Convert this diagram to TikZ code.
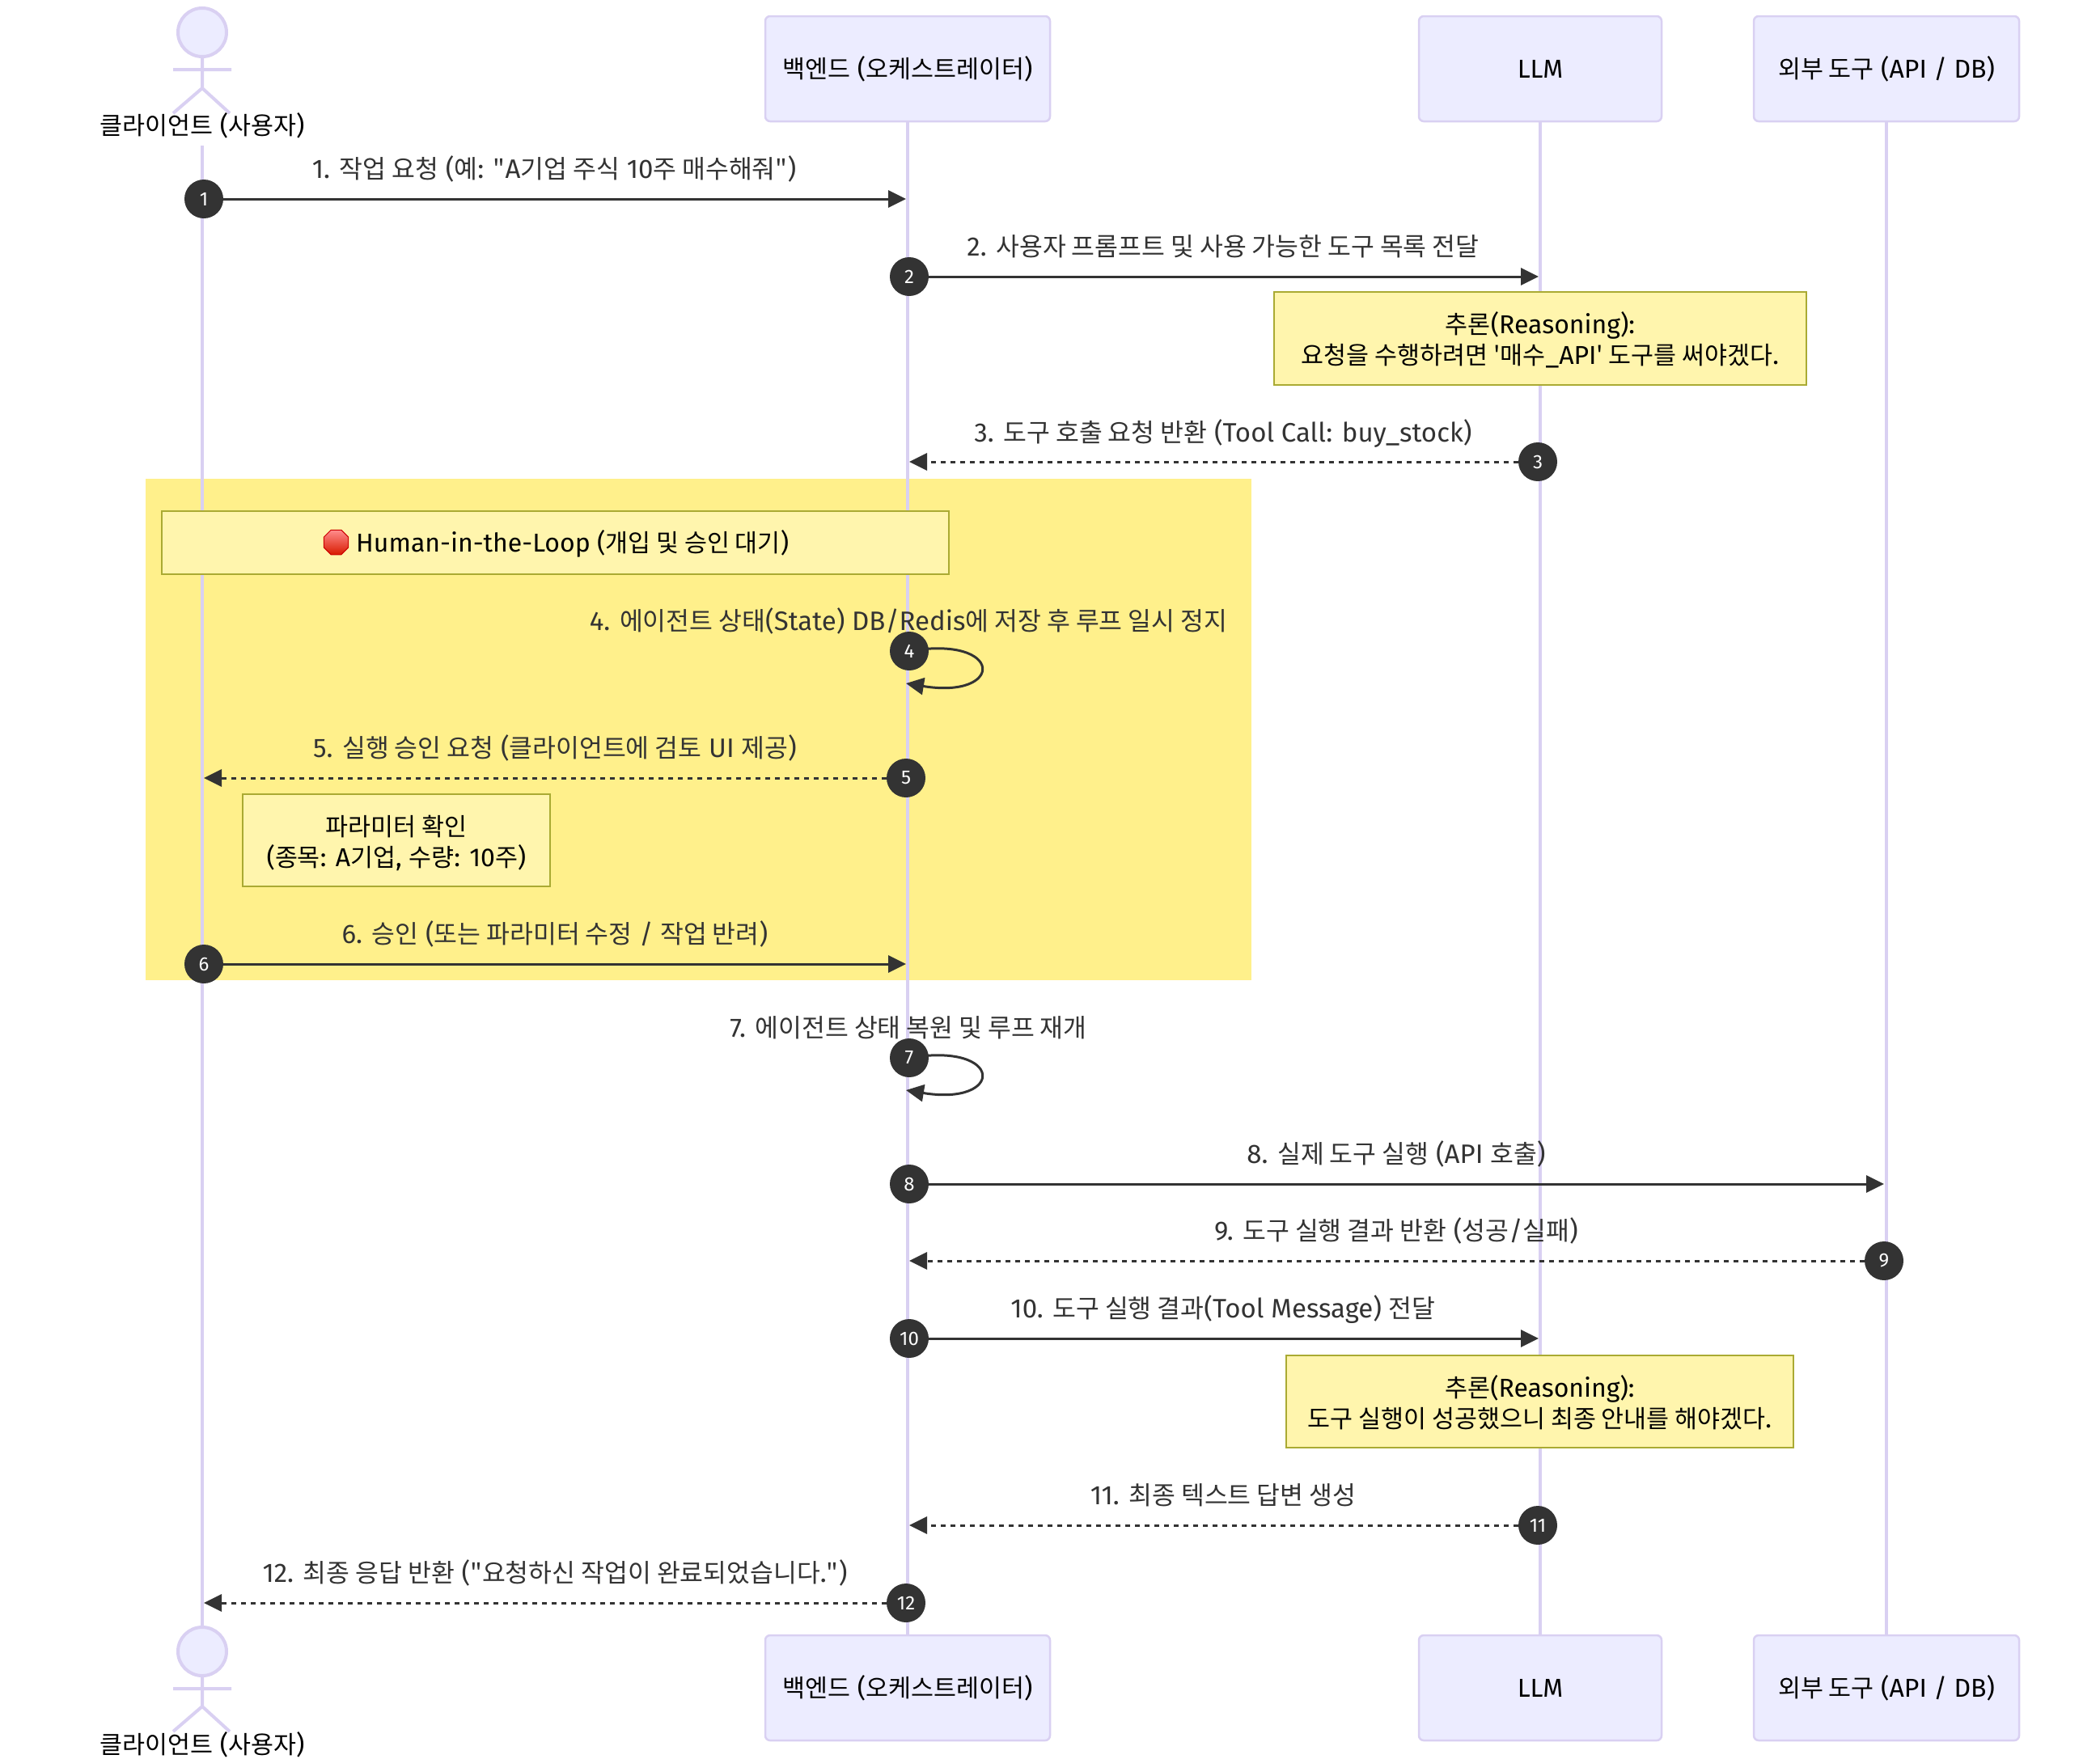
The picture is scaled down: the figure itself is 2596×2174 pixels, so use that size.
\documentclass[tikz,border=0pt]{standalone}
\usepackage{fontspec}
\setmainfont{Fira Sans}
\newfontfamily\krf[Scale=0.95]{Noto Sans CJK KR}
\newcommand\K[1]{{\krf #1}}
\newcommand\nlstrut{\rule[-10pt]{0pt}{46pt}}
\usetikzlibrary{arrows.meta,shapes.geometric}
\pgfdeclarelayer{bgl}\pgfdeclarelayer{conn}
\pgfsetlayers{bgl,conn,main}
\definecolor{actline}{HTML}{D9D0F2}
\definecolor{actfill}{HTML}{ECECFF}
\definecolor{darkc}{HTML}{333333}
\definecolor{notefill}{HTML}{FFF5AD}
\definecolor{notedraw}{HTML}{AAAA33}
\definecolor{loopbg}{HTML}{FFF08B}
\tikzset{
 x=1pt,y=-1pt,
 basefont/.style={font=\fontsize{32}{38}\selectfont},
 actorbox/.style={draw=actline,fill=actfill,line width=2.5pt,rounded corners=6pt,inner sep=0pt,basefont,text=black,minimum height=130pt},
 actorlabel/.style={inner sep=0pt,anchor=base,basefont,text=black},
 lifeline/.style={draw=actline,line width=4pt},
 actorline/.style={draw=actline,line width=4pt},
 msglabel/.style={inner sep=0pt,anchor=base,font=\fontsize{33}{38}\selectfont,text=darkc},
 num/.style={circle,fill=darkc,text=white,inner sep=0pt,minimum size=48pt,font=\fontsize{24}{24}\selectfont},
 msg/.style={draw=darkc,line width=3pt,-{Triangle[length=22pt,width=21pt]}},
 msgd/.style={msg,dash pattern=on 6pt off 6pt},
 notebox/.style={draw=notedraw,fill=notefill,line width=2.5pt,inner sep=0pt,basefont,text=black,align=center},
}
\begin{document}
\lineskiplimit=-1000pt
\begin{tikzpicture}
\useasboundingbox (0,0) rectangle (2596,2174);
\begin{pgfonlayer}{bgl}
\fill[white] (0,0) rectangle (2596,2174);
\fill[loopbg] (180,592) rectangle (1547,1212);
\end{pgfonlayer}

% participants
\node[actorbox,minimum width=352pt] (bT) at (1122,85) {\K{백엔드} (\K{오케스트레이터})};
\node[actorbox,minimum width=300pt] (lT) at (1904,85) {LLM};
\node[actorbox,minimum width=328pt] (tT) at (2332,85) {\K{외부 도구} (API / DB)};
\node[actorbox,minimum width=352pt] (bB) at (1122,2087) {\K{백엔드} (\K{오케스트레이터})};
\node[actorbox,minimum width=300pt] (lB) at (1904,2087) {LLM};
\node[actorbox,minimum width=328pt] (tB) at (2332,2087) {\K{외부 도구} (API / DB)};

% actors
\node[actorlabel] (aT) at (250,166) {\K{클라이언트} (\K{사용자})};
\node[actorlabel] (aB) at (250,2168) {\K{클라이언트} (\K{사용자})};
\coordinate (aTl) at (250,180);
\node[circle,draw=actline,fill=actfill,line width=4pt,inner sep=0pt,minimum size=60pt] (hT) at (250,40) {};
\node[circle,draw=actline,fill=actfill,line width=4pt,inner sep=0pt,minimum size=60pt] (hB) at (250,2042) {};
\draw[actorline] (hT.south) -- (250,109) -- (214,140) (250,109) -- (284,140) (214,86) -- (286,86);
\draw[actorline] (hB.south) -- (250,2110) -- (214,2141) (250,2110) -- (284,2141) (214,2088) -- (286,2088);

\begin{pgfonlayer}{bgl}
\draw[lifeline] (aTl) -- (hB.north);
\draw[lifeline] (bT.south) -- (bB.north);
\draw[lifeline] (lT.south) -- (lB.north);
\draw[lifeline] (tT.south) -- (tB.north);
\end{pgfonlayer}

% notes
\node[notebox,minimum width=658pt,minimum height=115pt] (note1) at (1904,418.5) {\nlstrut\K{추론}(Reasoning):\\\nlstrut\K{요청을 수행하려면 '매수}\_API\K{' 도구를 써야겠다}.};
\node[notebox,minimum width=380pt,minimum height=114pt] (note2) at (490,1039) {\nlstrut\K{파라미터 확인}\\\nlstrut(\K{종목}: A\K{기업}, \K{수량}: 10\K{주})};
\node[notebox,minimum width=627pt,minimum height=114pt] (note3) at (1903.5,1733) {\nlstrut\K{추론}(Reasoning):\\\nlstrut\K{도구 실행이 성공했으니 최종 안내를 해야겠다}.};
\node[notebox,minimum width=973pt,minimum height=78pt] (note4) at (686.5,671) {};
\node[inner sep=0pt,anchor=base west,basefont,text=black] (note4t) at (440,682) {Human-in-the-Loop (\K{개입 및 승인 대기})};
\node[regular polygon,regular polygon sides=8,draw=red!80!black,line width=1pt,top color=red!45!white,bottom color=red!75!orange!85!black,inner sep=0pt,minimum size=33pt] (stop) at (415.5,670.5) {};

% step markers
\node[num] (n1) at (252,246) {1};
\node[num] (n2) at (1124,342) {2};
\node[num] (n3) at (1901,571) {3};
\node[num] (n4) at (1124,805) {4};
\node[num] (n5) at (1120,962) {5};
\node[num] (n6) at (252,1192) {6};
\node[num] (n7) at (1124,1308) {7};
\node[num] (n8) at (1124,1464) {8};
\node[num] (n9) at (2329,1559) {9};
\node[num] (n10) at (1124,1655) {10};
\node[num] (n11) at (1901,1886) {11};
\node[num] (n12) at (1120,1982) {12};

% arrow ends
\coordinate (e1) at (1120,246);
\coordinate (e2) at (1902,342);
\coordinate (e3) at (1124,571);
\coordinate (e4) at (1120,845);
\coordinate (e5) at (252,962);
\coordinate (e6) at (1120,1192);
\coordinate (e7) at (1120,1348);
\coordinate (e8) at (2329,1464);
\coordinate (e9) at (1124,1559);
\coordinate (e10) at (1902,1655);
\coordinate (e11) at (1124,1886);
\coordinate (e12) at (252,1982);

\begin{pgfonlayer}{conn}
\draw[msg] (n1) -- (e1);
\draw[msg] (n2) -- (e2);
\draw[msgd] (n3) -- (e3);
\draw[msg] (n4.center) .. controls (1242,785) and (1242,865) .. (e4);
\draw[msgd] (n5) -- (e5);
\draw[msg] (n6) -- (e6);
\draw[msg] (n7.center) .. controls (1242,1288) and (1242,1368) .. (e7);
\draw[msg] (n8) -- (e8);
\draw[msgd] (n9) -- (e9);
\draw[msg] (n10) -- (e10);
\draw[msgd] (n11) -- (e11);
\draw[msgd] (n12) -- (e12);
\end{pgfonlayer}

% message labels
\node[msglabel] (m1) at (685,220) {1. \K{작업 요청} (\K{예}: \K{"}A\K{기업 주식} 10\K{주 매수해줘"})};
\node[msglabel] (m2) at (1512,316) {2. \K{사용자 프롬프트 및 사용 가능한 도구 목록 전달}};
\node[msglabel] (m3) at (1512,546) {3. \K{도구 호출 요청 반환} (Tool Call: buy\_stock)};
\node[msglabel] (m4) at (1123,779) {4. \K{에이전트 상태}(State) DB/Redis\K{에 저장 후 루프 일시 정지}};
\node[msglabel] (m5) at (686,936) {5. \K{실행 승인 요청} (\K{클라이언트에 검토} UI \K{제공})};
\node[msglabel] (m6) at (686,1166) {6. \K{승인} (\K{또는 파라미터 수정} / \K{작업 반려})};
\node[msglabel] (m7) at (1123,1282) {7. \K{에이전트 상태 복원 및 루프 재개}};
\node[msglabel] (m8) at (1726,1438) {8. \K{실제 도구 실행} (API \K{호출})};
\node[msglabel] (m9) at (1726,1533) {9. \K{도구 실행 결과 반환} (\K{성공}/\K{실패})};
\node[msglabel] (m10) at (1512,1629) {10. \K{도구 실행 결과}(Tool Message) \K{전달}};
\node[msglabel] (m11) at (1512,1860) {11. \K{최종 텍스트 답변 생성}};
\node[msglabel] (m12) at (686,1956) {12. \K{최종 응답 반환} (\K{"요청하신 작업이 완료되었습니다}.\K{"})};
\end{tikzpicture}
\end{document}
